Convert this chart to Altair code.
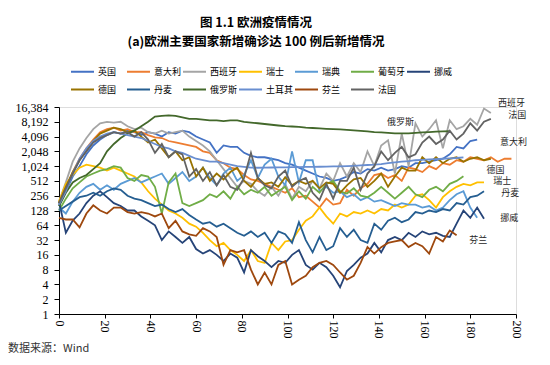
import altair as alt
import pandas as pd

# ---------------- data (daily new cases, sampled every 3 days after reaching 100) ----------------
names = ["英国", "意大利", "西班牙", "瑞士", "瑞典", "葡萄牙", "挪威",
         "德国", "丹麦", "俄罗斯", "土耳其", "芬兰", "法国"]
colors = ["#4472C4", "#ED7D31", "#A5A5A5", "#FFC000", "#5B9BD5", "#70AD47", "#264478",
          "#997300", "#255E91", "#43682B", "#698ED0", "#9E480E", "#636363"]

days = list(range(0, 199, 3))

uk = [158, 315, 630, 1024, 1783, 2702, 3566, 4390, 5042, 4705, 5405, 5042, 4390, 5042, 4705, 4096,
      5042, 4705, 5405, 5042, 4096, 3566, 3104, 1911, 2702, 2521, 2521, 1911, 1663, 1552, 1552, 1448,
      1351, 1176, 1097, 955, 832, 724, 630, 588, 512, 549, 630, 776, 724, 891, 832, 955, 832, 891,
      1024, 955, 1176, 1176, 1261, 1351, 1448, 1783, 2521, 2353, 3327, 3566]
italy = [194, 362, 776, 1448, 2353, 3566, 5042, 5793, 6208, 5405, 5793, 5042, 5042, 4390, 3957, 3822,
         3327, 3104, 2896, 2702, 2521, 2048, 1911, 1351, 1176, 955, 891, 676, 549, 512, 446, 388,
         338, 294, 362, 239, 256, 194, 147, 223, 169, 181, 338, 256, 362, 446, 676, 724, 588, 676,
         512, 955, 891, 776, 1024, 891, 1176, 1097, 1351, 1261, 1552, 1448, 1351, 1552, 1261, 1448, 1448]
spain = [194, 478, 1261, 2353, 3822, 5793, 7643, 8192, 7913, 8192, 6654, 5793, 6208, 5042, 4705, 5405,
         4705, 5042, 5405, 4096, 3327, 2702, 2048, 1351, 891, 588, 388, 512, 446, 315, 256, 388,
         256, 446, 223, 388, 315, 512, 362, 724, 512, 1176, 630, 1176, 776, 2048, 1024, 2702, 3444, 724,
         4705, 1024, 7643, 4096, 5793, 8780, 2353, 8780, 5793, 6654, 9410, 7131, 15287, 12417]
swiss = [194, 446, 676, 955, 1097, 1024, 955, 832, 955, 832, 724, 630, 478, 315, 223, 169,
         128, 111, 91, 69, 60, 45, 32, 24, 28, 20, 16, 12, 20, 12, 11, 28,
         20, 30, 32, 52, 79, 97, 147, 97, 69, 111, 97, 119, 111, 128, 111, 137, 128, 169,
         147, 169, 256, 274, 208, 147, 239, 315, 388, 446, 416, 478, 478]
sweden = [147, 111, 194, 294, 388, 446, 338, 416, 338, 446, 512, 588, 478, 549, 630, 724,
          446, 588, 776, 512, 630, 955, 588, 416, 724, 955, 512, 676, 1351, 588, 1097, 1448,
          630, 416, 2048, 478, 1351, 1351, 315, 388, 294, 315, 239, 274, 208, 239, 194, 208, 181, 158,
          181, 169, 169, 147, 158, 128, 147, 208, 274, 315, 147, 91]
portugal = [128, 223, 362, 478, 630, 724, 832, 891, 1024, 955, 588, 512, 676, 630, 388, 111,
            478, 724, 181, 158, 181, 208, 274, 239, 315, 223, 388, 274, 338, 294, 388, 256,
            315, 388, 208, 315, 223, 388, 294, 446, 512, 315, 284, 362, 256, 239, 294, 388, 294, 223,
            294, 388, 274, 239, 338, 388, 315, 446, 512, 640]
norway = [194, 45, 80, 111, 181, 256, 315, 239, 181, 158, 128, 128, 97, 79, 64, 32,
          48, 37, 28, 37, 21, 17, 20, 16, 12, 17, 14, 7, 20, 15, 12, 9,
          12, 11, 16, 20, 10, 8, 11, 9, 6, 3.5, 7.5, 10, 14, 17, 28, 18, 32, 37,
          32, 45, 37, 48, 42, 45, 39, 37, 69, 128, 91, 147, 87]
germany = [181, 388, 776, 1351, 2195, 3327, 4705, 5405, 6208, 5793, 5042, 5405, 4096, 3104, 3566, 2353,
           1552, 2048, 1351, 1552, 630, 955, 512, 724, 549, 776, 955, 512, 388, 588, 446, 478,
           388, 609, 416, 512, 446, 512, 362, 478, 446, 294, 416, 549, 588, 388, 512, 724, 388, 630,
           955, 832, 832, 1552, 1176, 1552, 1176, 1448, 1552, 1261, 1448, 1552, 1351, 1448]
denmark = [128, 158, 194, 239, 256, 294, 256, 315, 362, 338, 256, 223, 208, 181, 158, 169,
           137, 119, 137, 104, 84, 69, 74, 60, 69, 56, 45, 39, 48, 37, 45, 28,
           48, 42, 28, 74, 32, 18, 37, 20, 24, 56, 37, 52, 32, 28, 69, 52, 79, 91,
           74, 84, 119, 111, 128, 119, 137, 128, 181, 169, 239, 256, 315]
russia = [158, 294, 478, 588, 676, 891, 1176, 2048, 2896, 3822, 4705, 5405, 6654, 8192, 10436, 10809,
          11109, 10809, 10086, 9410, 9410, 9090, 8780, 8780, 8482, 8780, 8780, 8192, 7913, 7643, 7383, 7131,
          6889, 6654, 6562, 6427, 6208, 6123, 5995, 5874, 5793, 5713, 5595, 5480, 5330, 5221, 5042, 4973,
          4871, 4770, 4770, 4770, 4871, 4973, 5042, 5148, 5221, 5257]
turkey = [169, 315, 724, 1448, 2353, 3327, 4096, 4705, 5042, 4705, 4390, 4096, 3822, 3327, 2896, 2521,
          2353, 2048, 1911, 1663, 1448, 1351, 1261, 1261, 1176, 1097, 1024, 989, 955, 950, 955, 960,
          969, 970, 975, 980, 989, 990, 996, 1000, 1010, 1015, 1024, 1040, 1060, 1080, 1097, 1130,
          1176, 1220, 1261, 1300, 1351, 1380, 1400, 1420, 1448, 1470, 1500, 1552]
finland = [91, 84, 84, 58, 111, 163, 128, 111, 147, 147, 119, 111, 119, 111, 97, 111,
           56, 79, 48, 42, 39, 56, 48, 37, 10, 20, 18, 20, 8, 4, 7, 4,
           10, 12, 4, 5, 6, 9, 11, 12, 10, 7, 5, 6, 11, 23, 17, 23, 28, 30,
           32, 23, 28, 24, 17, 37, 30, 50, 40]
france = [181, 362, 724, 1351, 2048, 3104, 3822, 4390, 5042, 4705, 5042, 4096, 5042, 3566, 1911, 2896,
          1552, 2048, 1783, 630, 891, 512, 776, 416, 676, 388, 338, 588, 1911, 588, 416, 362,
          630, 832, 388, 512, 588, 294, 208, 446, 223, 512, 512, 955, 338, 724, 1024, 2048, 1351, 1911,
          2521, 1552, 1783, 3104, 4096, 2896, 3566, 5405, 3566, 4705, 7643, 5405, 8192, 9410]

series = [uk, italy, spain, swiss, sweden, portugal, norway,
          germany, denmark, russia, turkey, finland, france]

y_ticks = [1, 2, 4, 8, 16, 32, 64, 128, 256, 512, 1024, 2048, 4096, 8192, 16384]
x_ticks = [0, 20, 40, 60, 80, 100, 120, 140, 160, 180, 200]

# end-of-line labels (day, value)
label_names = ["西班牙", "法国", "俄罗斯", "意大利", "德国", "瑞士", "丹麦", "挪威", "芬兰"]
label_days = [198, 200.6, 149.4, 198.9, 191, 194, 197.5, 197.1, 183.5]
label_vals = [19484, 11109, 8026, 3126, 860, 515, 292, 92, 32]

title_text = "图 1.1  欧洲疫情情况"
subtitle_text = "(a)欧洲主要国家新增确诊达 100 例后新增情况"
source_text = "数据来源：Wind"

# ---------------- build table ----------------
rows = []
for name, vals in zip(names, series):
    for d, v in zip(days, vals):
        rows.append({"国家": name, "天数": d, "新增": v})
df = pd.DataFrame(rows)

labels_df = pd.DataFrame({"name": label_names, "天数": label_days, "新增": label_vals})

CJK = "Noto Sans CJK SC"
SERIF = "Liberation Serif"

x_enc = alt.X("天数:Q",
              scale=alt.Scale(domain=[0, 200], nice=False, zero=False),
              axis=alt.Axis(values=x_ticks, labelAngle=90, title=None, grid=False,
                            labelFont=SERIF, labelFontSize=12, labelColor="#000",
                            domainColor="#000", tickColor="#000", tickSize=4, labelPadding=2))
y_enc = alt.Y("新增:Q",
              scale=alt.Scale(type="log", base=2, domain=[1, 16384], nice=False),
              axis=alt.Axis(values=y_ticks, format=",d", title=None, grid=False,
                            labelFont=SERIF, labelFontSize=12, labelColor="#000",
                            domainColor="#000", tickColor="#000", tickSize=5, labelPadding=6))

lines = alt.Chart(df).mark_line(strokeWidth=1.8, clip=False).encode(
    x=x_enc,
    y=y_enc,
    color=alt.Color("国家:N",
                    scale=alt.Scale(domain=names, range=colors),
                    legend=alt.Legend(orient="none", legendX=11, legendY=-48,
                                      direction="horizontal", columns=7, title=None,
                                      symbolType="stroke", symbolSize=529, symbolStrokeWidth=2,
                                      labelFont=CJK, labelFontSize=9, labelColor="#000",
                                      labelOffset=3, columnPadding=-4, rowPadding=-4,
                                      gridAlign="all")),
)

line_labels = alt.Chart(labels_df).mark_text(font=CJK, fontSize=9, color="#262626",
                                             align="center", baseline="middle", clip=False).encode(
    x="天数:Q", y="新增:Q", text="name:N")

title_mark = alt.Chart(pd.DataFrame({"t": [title_text]})).mark_text(
    font=CJK, fontSize=12.5, fontWeight="bold", color="#000", align="center", baseline="middle"
).encode(x=alt.value(197), y=alt.value(-84), text="t:N")

subtitle_mark = alt.Chart(pd.DataFrame({"t": [subtitle_text]})).mark_text(
    font=CJK, fontSize=12.5, fontWeight="bold", color="#000", align="center", baseline="middle"
).encode(x=alt.value(197), y=alt.value(-65), text="t:N")

source_mark = alt.Chart(pd.DataFrame({"t": [source_text]})).mark_text(
    font=CJK, fontSize=11, color="#333", align="left", baseline="middle"
).encode(x=alt.value(-51), y=alt.value(242), text="t:N")

chart = alt.layer(lines, line_labels, title_mark, subtitle_mark, source_mark).properties(
    width=457, height=207,
    autosize=alt.AutoSizeParams(type="none"),
    padding={"left": 51, "top": 99, "right": 26, "bottom": 43},
).configure_view(stroke=None).configure(background="white")

chart.save("out.html", embed_options={"renderer": "svg", "actions": False})
